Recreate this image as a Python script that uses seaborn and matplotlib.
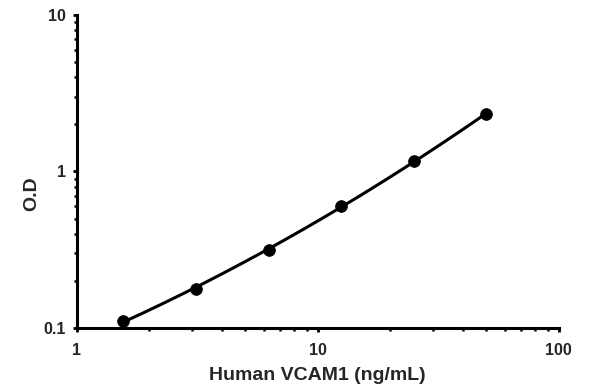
import numpy as np
import pandas as pd
import seaborn as sns
from matplotlib import pyplot as plt
from matplotlib import ticker

conc = [1.5625, 3.125, 6.25, 12.5, 25, 50]
od = [0.111, 0.178, 0.316, 0.605, 1.16, 2.32]
x_ticks = [1, 10, 100]
y_ticks = [0.1, 1, 10]

sns.set_style('white')
plt.rcParams['font.family'] = ['Liberation Sans', 'DejaVu Sans']
plt.rcParams['font.weight'] = 'bold'

points = pd.DataFrame({'conc': conc, 'od': od})

# smooth standard curve: quadratic fit in log-log space
coef = np.polyfit(np.log10(conc), np.log10(od), 2)
xs = np.logspace(np.log10(conc[0]), np.log10(conc[-1]), 200)
fit = pd.DataFrame({'conc': xs, 'od': 10 ** np.polyval(coef, np.log10(xs))})

fig = plt.figure(figsize=(5.95, 3.91), dpi=100)
ax = fig.add_axes([0.129, 0.161, 0.81, 0.801])
sns.lineplot(data=fit, x='conc', y='od', ax=ax, color='black', linewidth=2.2)
sns.scatterplot(data=points, x='conc', y='od', ax=ax, color='black',
                s=70, edgecolor='black', zorder=3)

ax.set_xscale('log')
ax.set_yscale('log')
ax.set_xlim(1, 100)
ax.set_ylim(0.1, 10)
ax.set_xticks(x_ticks)
ax.set_yticks(y_ticks)
ax.xaxis.set_major_formatter(ticker.FuncFormatter(lambda v, p: '%g' % v))
ax.yaxis.set_major_formatter(ticker.FuncFormatter(lambda v, p: '%g' % v))
ax.xaxis.set_minor_locator(ticker.LogLocator(base=10, subs=np.arange(2, 10)))
ax.yaxis.set_minor_locator(ticker.LogLocator(base=10, subs=np.arange(2, 10)))
ax.xaxis.set_minor_formatter(ticker.NullFormatter())
ax.yaxis.set_minor_formatter(ticker.NullFormatter())

for side in ['top', 'right']:
  ax.spines[side].set_visible(False)
for side in ['left', 'bottom']:
  ax.spines[side].set_linewidth(2.2)
  ax.spines[side].set_color('black')

ax.tick_params(which='major', direction='out', length=3, width=2,
               labelsize=11.5, color='black', left=True, bottom=True)
ax.tick_params(axis='x', which='major', pad=8)
ax.tick_params(axis='y', which='major', pad=5)
ax.tick_params(which='minor', direction='out', length=2.5, width=1.8,
               color='black', left=True, bottom=True)
for lab in ax.get_xticklabels() + ax.get_yticklabels():
  lab.set_fontweight('bold')

ax.set_xlabel('Human VCAM1 (ng/mL)', fontsize=14, fontweight='bold')
ax.set_ylabel('O.D', fontsize=14, fontweight='bold')
ax.xaxis.set_label_coords(0.5, -0.125)
ax.yaxis.set_label_coords(-0.075, 0.43)

plt.savefig('out.png', dpi=100)
plt.close('all')
